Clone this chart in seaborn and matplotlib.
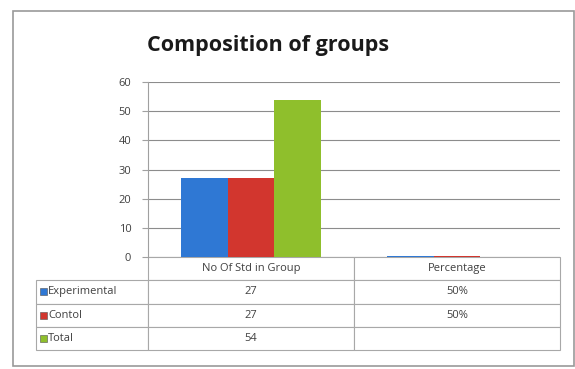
import matplotlib
matplotlib.use("Agg")
import matplotlib.pyplot as plt
import numpy as np
import pandas as pd
import seaborn as sns

categories = ["No Of Std in Group", "Percentage"]
series = ["Experimental", "Contol", "Total"]
counts = [27, 27, 54]
percents = [0.5, 0.5, np.nan]
percent_labels = ["50%", "50%", ""]
colors = ["#2f78d4", "#d2362e", "#8fbf2c"]

df = pd.DataFrame({
    "group": series * 2,
    "category": [categories[0]] * 3 + [categories[1]] * 3,
    "value": counts + percents,
})

sns.set_style("white")
plt.rcParams["font.family"] = ["Open Sans", "DejaVu Sans"]

W, H = 575, 369
fig = plt.figure(figsize=(W / 100, H / 100), dpi=100)
ax = fig.add_axes([148 / W, 1 - 257 / H, (560 - 148) / W, (257 - 82) / H])

sns.barplot(data=df, x="category", y="value", hue="group", palette=colors,
            width=0.675, ax=ax, legend=False, saturation=1,
            edgecolor="none", linewidth=0)

ax.set_ylim(0, 60)
ax.set_yticks(range(0, 61, 10))
ax.set_xlim(-0.5, 1.5)
ax.set_xticks([])
ax.set_xlabel("")
ax.set_ylabel("")
ax.yaxis.grid(True, color="#8c8c8c", linewidth=0.8)
ax.set_axisbelow(True)
for s in ["top", "right", "bottom"]:
    ax.spines[s].set_visible(False)
ax.spines["left"].set_color("#a0a0a0")
ax.tick_params(axis="y", length=4, width=0.8, color="#a0a0a0",
               labelsize=8, labelcolor="#404040", pad=8, left=True)

# data table under the plot
cell_text = [[s, str(c), p] for s, c, p in zip(series, counts, percent_labels)]
tx0 = (36 - 148) / 412
tw = (560 - 36) / 412
th = (350 - 257) / 175
tbl = ax.table(cellText=cell_text, colLabels=[""] + categories,
               colWidths=[112, 206, 206], cellLoc="center",
               bbox=[tx0, -th, tw, th])
tbl.auto_set_font_size(False)
tbl.set_fontsize(8)
for (r, c), cell in tbl.get_celld().items():
    cell.set_edgecolor("#a8a8a8")
    cell.set_linewidth(0.8)
    cell.get_text().set_color("#404040")
    if c == 0:
        cell.get_text().set_ha("left")
        cell.PAD = 0.11
tbl[(0, 0)].visible_edges = ""

# legend keys inside row labels
row_h = th / 4
for i, col in enumerate(colors):
    yc = -row_h * (i + 1.5)
    ax.add_patch(plt.Rectangle((tx0 + 4 / 412, yc - 3.5 / 175), 7 / 412, 7 / 175,
                               transform=ax.transAxes, clip_on=False,
                               facecolor=col, edgecolor="#505050", linewidth=0.4))

fig.text(268 / W, 1 - 45 / H, "Composition of groups", ha="center", va="center",
         fontsize=15.5, fontweight="bold", color="#1a1a1a")

# chart frame
fig.add_artist(plt.Rectangle((13 / W, 1 - 366 / H), (574 - 13) / W, (366 - 11) / H,
                             transform=fig.transFigure, fill=False,
                             edgecolor="#9a9a9a", linewidth=1.2))

fig.savefig("out.png", dpi=100)
